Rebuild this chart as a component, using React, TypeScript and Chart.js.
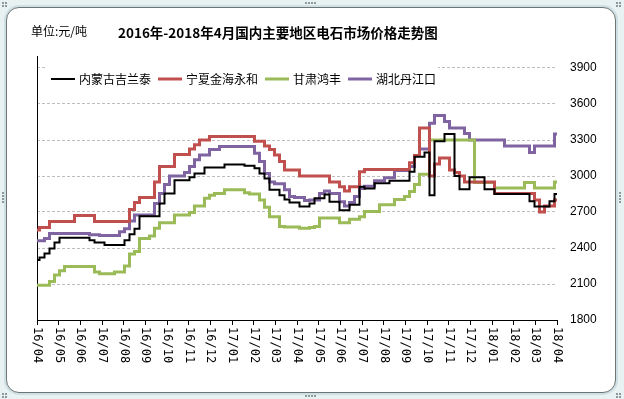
import React, { useEffect, useRef } from 'react';
import { Chart, registerables } from 'chart.js';

Chart.register(...registerables);

// ---------- data ----------
const titleText = '2016年-2018年4月国内主要地区电石市场价格走势图';
const unitText = '单位:元/吨';

const monthLabels = [
  '16/04', '16/05', '16/06', '16/07', '16/08', '16/09', '16/10', '16/11', '16/12',
  '17/01', '17/02', '17/03', '17/04', '17/05', '17/06', '17/07', '17/08', '17/09',
  '17/10', '17/11', '17/12', '18/01', '18/02', '18/03', '18/04',
];

const seriesNames = ['内蒙古吉兰泰', '宁夏金海永和', '甘肃鸿丰', '湖北丹江口'];
const seriesColors = ['#000000', '#C0504D', '#9BBB59', '#8064A2'];
const seriesWidths = [2, 3, 3, 3];

// weekly prices, 2016/04 .. 2018/04
const neimengguJilantai = [
  2300, 2320, 2355, 2395, 2445, 2485, 2485, 2485, 2485, 2485,
  2485, 2465, 2445, 2445, 2425, 2425, 2425, 2425, 2465, 2515,
  2560, 2665, 2665, 2665, 2665, 2770, 2855, 2855, 2965, 2965,
  2965, 2990, 3020, 3020, 3070, 3070, 3070, 3070, 3095, 3095,
  3095, 3095, 3085, 3085, 3065, 3020, 2980, 2885, 2885, 2840,
  2805, 2780, 2780, 2745, 2745, 2770, 2815, 2815, 2845, 2785,
  2785, 2715, 2715, 2760, 2760, 2910, 2895, 2895, 2940, 2940,
  2940, 2960, 2960, 2960, 2960, 3035, 3160, 3160, 3195, 2840,
  3290, 3290, 3350, 3350, 3000, 2890, 2890, 2990, 2990, 2990,
  2890, 2890, 2850, 2850, 2850, 2850, 2850, 2850, 2850, 2790,
  2745, 2745, 2745, 2790, 2850,
];

const ningxiaJinhai = [
  2550, 2570, 2570, 2620, 2620, 2620, 2620, 2620, 2670, 2670,
  2670, 2670, 2620, 2620, 2620, 2620, 2620, 2620, 2620, 2720,
  2780, 2820, 2820, 2820, 2950, 3080, 3080, 3080, 3180, 3180,
  3180, 3225, 3260, 3300, 3300, 3330, 3330, 3330, 3330, 3330,
  3330, 3330, 3330, 3330, 3290, 3290, 3250, 3220, 3175, 3120,
  3050, 3050, 3050, 3000, 3000, 3000, 3000, 3000, 3000, 2950,
  2950, 2910, 2875, 2910, 2910, 3035, 3055, 3055, 3055, 3055,
  3055, 3055, 3055, 3055, 3055, 3110, 3170, 3400, 3400, 3000,
  3100, 3150, 3150, 3050, 3030, 3000, 2950, 2950, 2950, 2950,
  2950, 2950, 2855, 2855, 2855, 2855, 2855, 2855, 2855, 2855,
  2800, 2700, 2750, 2750, 2800,
];

const gansuHongfeng = [
  2090, 2090, 2090, 2120, 2175, 2210, 2245, 2245, 2245, 2245,
  2245, 2245, 2200, 2185, 2185, 2185, 2200, 2200, 2250, 2350,
  2370, 2480, 2480, 2500, 2565, 2610, 2610, 2610, 2675, 2675,
  2675, 2695, 2750, 2750, 2815, 2840, 2855, 2855, 2885, 2885,
  2885, 2885, 2860, 2850, 2850, 2800, 2740, 2660, 2660, 2580,
  2575, 2575, 2575, 2565, 2565, 2570, 2580, 2650, 2650, 2650,
  2650, 2610, 2610, 2640, 2640, 2660, 2705, 2705, 2705, 2760,
  2760, 2760, 2805, 2805, 2830, 2870, 2930, 3015, 3015, 3300,
  3300, 3300, 3300, 3300, 3300, 3300, 3300, 3300, 2945, 2945,
  2945, 2945, 2900, 2900, 2900, 2900, 2900, 2900, 2945, 2945,
  2900, 2900, 2900, 2900, 2950,
];

const hubeiDanjiangkou = [
  2460, 2460, 2480, 2520, 2520, 2520, 2520, 2520, 2520, 2520,
  2520, 2510, 2510, 2505, 2505, 2505, 2505, 2535, 2560, 2625,
  2675, 2675, 2675, 2675, 2770, 2855, 2930, 3000, 3000, 3000,
  3030, 3080, 3135, 3175, 3175, 3220, 3220, 3245, 3245, 3245,
  3245, 3245, 3245, 3245, 3190, 3120, 3020, 2950, 2935, 2935,
  2885, 2830, 2820, 2820, 2795, 2800, 2800, 2855, 2875, 2855,
  2855, 2785, 2750, 2780, 2830, 2895, 2915, 2915, 2960, 2960,
  2985, 2985, 3045, 3045, 3045, 3080, 3170, 3225, 3225, 3440,
  3505, 3505, 3455, 3400, 3400, 3400, 3355, 3300, 3300, 3300,
  3300, 3300, 3300, 3300, 3250, 3250, 3250, 3250, 3250, 3195,
  3250, 3250, 3250, 3250, 3350,
];

const seriesValues = [neimengguJilantai, ningxiaJinhai, gansuHongfeng, hubeiDanjiangkou];

const yMin = 1800;
const yMax = 4000;
const yStep = 300;

// ---------- plugin for title, unit, legend, rotated month labels ----------
const decorPlugin = {
  id: 'decor',
  afterDraw(chart: any) {
    const ctx = chart.ctx as CanvasRenderingContext2D;
    const xs = chart.scales.x;
    const lastIndex = neimengguJilantai.length - 1;
    ctx.save();
    ctx.fillStyle = '#000';
    ctx.textBaseline = 'middle';
    ctx.textAlign = 'left';

    // unit
    ctx.font = '12px "Noto Sans CJK SC"';
    ctx.fillText(unitText, 31, 31);

    // title
    ctx.font = 'bold 13.5px "Noto Sans CJK SC"';
    ctx.fillText(titleText, 118, 33);

    // legend (white box over the plot)
    ctx.fillStyle = '#FFFFFF';
    ctx.fillRect(45, 63, 393, 30);
    ctx.font = '12px "Noto Sans CJK SC"';
    let lx = 51;
    const ly = 79;
    seriesNames.forEach((name, i) => {
      ctx.strokeStyle = seriesColors[i];
      ctx.lineWidth = seriesWidths[i];
      ctx.beginPath();
      ctx.moveTo(lx, ly);
      ctx.lineTo(lx + 24, ly);
      ctx.stroke();
      ctx.fillStyle = '#000';
      ctx.fillText(name, lx + 28, ly);
      lx += 28 + ctx.measureText(name).width + 7;
    });

    // month labels, rotated clockwise
    ctx.font = '12px "DejaVu Sans Mono"';
    ctx.fillStyle = '#000';
    monthLabels.forEach((lbl, m) => {
      const x = xs.getPixelForValue((m * lastIndex) / (monthLabels.length - 1));
      ctx.save();
      ctx.translate(x, xs.top + 7);
      ctx.rotate(Math.PI / 2);
      ctx.textAlign = 'left';
      ctx.textBaseline = 'middle';
      ctx.fillText(lbl, 0, 0);
      ctx.restore();
    });
    ctx.restore();
  },
};

function Dots({ x, y, cols, rows }: { x: number; y: number; cols: number; rows: number }) {
  const items: React.ReactNode[] = [];
  for (let r = 0; r < rows; r++) {
    for (let c = 0; c < cols; c++) {
      items.push(
        <div
          key={`${r}-${c}`}
          style={{
            position: 'absolute',
            left: x + c * 3,
            top: y + r * 3,
            width: 2,
            height: 2,
            background: '#8C9A9C',
          }}
        />
      );
    }
  }
  return <>{items}</>;
}

export default function App() {
  const ref = useRef<HTMLCanvasElement>(null);

  useEffect(() => {
    document.body.style.margin = '0';
    const lastIndex = neimengguJilantai.length - 1;
    const chart = new Chart(ref.current as HTMLCanvasElement, {
      type: 'line',
      data: {
        datasets: seriesNames.map((name, i) => ({
          label: name,
          data: seriesValues[i].map((v, idx) => ({ x: idx, y: v })),
          borderColor: seriesColors[i],
          backgroundColor: seriesColors[i],
          borderWidth: seriesWidths[i],
          pointRadius: 0,
          pointHoverRadius: 0,
          stepped: 'middle',
          fill: false,
          borderJoinStyle: 'miter' as const,
        })),
      },
      plugins: [decorPlugin],
      options: {
        responsive: false,
        animation: false,
        devicePixelRatio: 1,
        layout: { padding: { left: 37, top: 56, right: 0, bottom: 0 } },
        plugins: {
          legend: { display: false },
          title: { display: false },
          tooltip: { enabled: false },
        },
        scales: {
          x: {
            type: 'linear',
            position: 'bottom',
            min: 0,
            max: lastIndex,
            afterBuildTicks: (s: any) => {
              s.ticks = monthLabels.map((_, m) => ({
                value: (m * lastIndex) / (monthLabels.length - 1),
              }));
            },
            ticks: { display: false },
            grid: {
              drawOnChartArea: false,
              drawTicks: true,
              tickLength: 5,
              color: '#000000',
              tickColor: '#000000',
            },
            border: { display: true, color: '#000000', width: 1, z: 1 },
            afterFit: (s: any) => {
              s.height = 79;
            },
          },
          yL: {
            type: 'linear',
            position: 'left',
            min: yMin,
            max: yMax,
            ticks: { display: false },
            grid: { display: false, drawTicks: false },
            border: { display: true, color: '#000000', width: 1 },
            afterFit: (s: any) => {
              s.width = 0;
            },
          },
          y: {
            type: 'linear',
            position: 'right',
            min: yMin,
            max: yMax,
            ticks: {
              stepSize: yStep,
              includeBounds: false,
              padding: 13,
              color: '#000000',
              font: { family: '"Liberation Sans"', size: 12 },
              callback: (v: any) => String(v),
            },
            grid: {
              drawTicks: false,
              lineWidth: 1,
              color: (c: any) => (c.tick && c.tick.value === yMin ? 'rgba(0,0,0,0)' : '#BEBEBE'),
            },
            border: { display: false, dash: [3, 2] },
            afterFit: (s: any) => {
              s.width = 67;
            },
          },
        },
      } as any,
    });
    return () => chart.destroy();
  }, []);

  return (
    <div
      style={{
        position: 'absolute',
        left: 0,
        top: 0,
        width: 624,
        height: 399,
        overflow: 'hidden',
        background: '#E8F2F2',
      }}
    >
      <div
        style={{
          position: 'absolute',
          left: 6,
          top: 7,
          width: 608,
          height: 384,
          borderRadius: 13,
          border: '1.5px solid #6F7475',
          boxShadow: '0 0 0 2px #CFE0E4',
          background: '#FFFFFF',
        }}
      />
      <Dots x={2} y={2} cols={2} rows={2} />
      <Dots x={305} y={2} cols={4} rows={1} />
      <Dots x={616} y={2} cols={2} rows={2} />
      <Dots x={2} y={192} cols={1} rows={4} />
      <Dots x={619} y={192} cols={1} rows={4} />
      <Dots x={2} y={393} cols={2} rows={2} />
      <Dots x={305} y={395} cols={4} rows={1} />
      <Dots x={616} y={393} cols={2} rows={2} />
      <canvas
        ref={ref}
        width={624}
        height={399}
        style={{ position: 'absolute', left: 0, top: 0, width: 624, height: 399 }}
      />
    </div>
  );
}
